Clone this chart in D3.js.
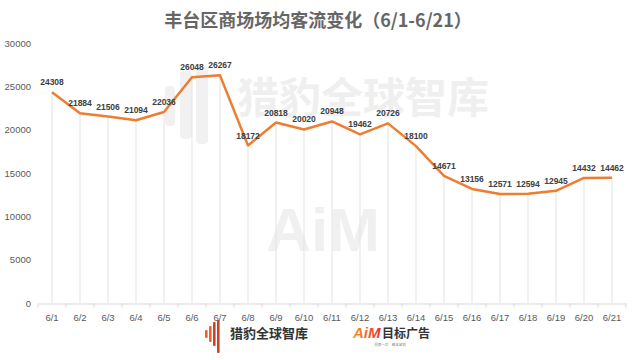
<!DOCTYPE html>
<html>
<head>
<meta charset="utf-8">
<script src="https://cdn.jsdelivr.net/npm/d3@7"></script>
<style>
  body { margin: 0; background: #fff; }
  svg { display: block; font-family: "Noto Sans CJK SC", "Open Sans", sans-serif; }
</style>
</head>
<body>
<svg id="chart" width="640" height="360"></svg>
<script>
"use strict";

// data
const dates = ["6/1", "6/2", "6/3", "6/4", "6/5", "6/6", "6/7", "6/8", "6/9", "6/10", "6/11",
  "6/12", "6/13", "6/14", "6/15", "6/16", "6/17", "6/18", "6/19", "6/20", "6/21"];
const visitors = [24308, 21884, 21506, 21094, 22036, 26048, 26267, 18172, 20818, 20020, 20948,
  19462, 20726, 18100, 14671, 13156, 12571, 12594, 12945, 14432, 14462];
const yTicks = [0, 5000, 10000, 15000, 20000, 25000, 30000];

const TITLE = "丰台区商场场均客流变化（6/1-6/21）";
const LINE_COLOR = "#ED7D31";

const svg = d3.select("#chart");

const x = d3.scaleBand().domain(dates).range([38, 626]);
const y = d3.scaleLinear().domain([0, 30000]).range([303, 43]);
const cx = (d) => x(d) + x.bandwidth() / 2;

// watermarks (very faint)
const wm = svg.append("g").attr("id", "watermark");
[[165, 86, 10, 40], [180, 71, 12, 68], [196, 66, 12, 78]].forEach(([bx, by, bw, bh]) => {
  wm.append("rect")
    .attr("x", bx)
    .attr("y", by)
    .attr("width", bw)
    .attr("height", bh)
    .attr("rx", 4)
    .attr("fill", "#f1f1f1");
});
wm.append("text")
  .attr("x", 237)
  .attr("y", 113)
  .attr("font-size", 42)
  .attr("font-weight", "bold")
  .attr("fill", "#efefef")
  .text("猎豹全球智库");
wm.append("text")
  .attr("x", 323)
  .attr("y", 251)
  .attr("text-anchor", "middle")
  .attr("font-family", "Liberation Sans, Arial, sans-serif")
  .attr("font-size", 62)
  .attr("font-weight", "bold")
  .attr("fill", "#f0f0f0")
  .text("AiM");

// title
svg.append("text")
  .attr("x", 318)
  .attr("y", 27)
  .attr("text-anchor", "middle")
  .attr("font-size", 18)
  .attr("font-weight", "bold")
  .attr("fill", "#666")
  .text(TITLE);

// y axis labels (no axis line)
svg.append("g")
  .selectAll("text")
  .data(yTicks)
  .join("text")
  .attr("x", 31)
  .attr("y", (d) => y(d) + 3.5)
  .attr("text-anchor", "end")
  .attr("font-size", 9.5)
  .attr("font-family", "Liberation Sans, Arial, sans-serif")
  .attr("fill", "#595959")
  .text((d) => d);

// drop lines from each point to the axis
svg.append("g")
  .selectAll("line")
  .data(dates)
  .join("line")
  .attr("x1", cx)
  .attr("x2", cx)
  .attr("y1", (d, i) => y(visitors[i]))
  .attr("y2", y(0))
  .attr("stroke", "#e3e3e3")
  .attr("stroke-width", 1);

// x axis
const xAxis = d3.axisBottom(x).tickSize(0).tickPadding(11);
const gx = svg.append("g")
  .attr("transform", `translate(0,${y(0) + 0.5})`)
  .call(xAxis);
gx.select(".domain").attr("stroke", "#d9d9d9");
gx.selectAll("text")
  .attr("font-size", 9.5)
  .attr("fill", "#595959")
  .attr("font-family", "Liberation Sans, Arial, sans-serif");
gx.selectAll(".sep")
  .data(dates.concat([null]))
  .join("line")
  .attr("class", "sep")
  .attr("x1", (d, i) => x.range()[0] + i * x.step())
  .attr("x2", (d, i) => x.range()[0] + i * x.step())
  .attr("y1", 0)
  .attr("y2", 4)
  .attr("stroke", "#d9d9d9");

// line
const line = d3.line()
  .x((d, i) => cx(dates[i]))
  .y((d) => y(d));

svg.append("path")
  .datum(visitors)
  .attr("d", line)
  .attr("fill", "none")
  .attr("stroke", LINE_COLOR)
  .attr("stroke-width", 2.5)
  .attr("stroke-linejoin", "round");

// data labels
svg.append("g")
  .selectAll("text")
  .data(visitors)
  .join("text")
  .attr("x", (d, i) => cx(dates[i]))
  .attr("y", (d) => y(d) - 7)
  .attr("text-anchor", "middle")
  .attr("font-size", 8.5)
  .attr("font-weight", "bold")
  .attr("font-family", "Liberation Sans, Arial, sans-serif")
  .attr("fill", "#404040")
  .text((d) => d);

// footer logos
const foot = svg.append("g").attr("id", "footer");
[[205, 330, 8], [209, 326, 16], [213, 322, 24], [217, 320, 33]].forEach(([fx, fy, h], i) => {
  foot.append("rect")
    .attr("x", fx)
    .attr("y", fy)
    .attr("width", 2.6)
    .attr("height", h)
    .attr("rx", 1)
    .attr("fill", i < 2 ? "#e8632b" : "#c9452a");
});
foot.append("text")
  .attr("x", 230)
  .attr("y", 338)
  .attr("font-size", 13)
  .attr("font-weight", "bold")
  .attr("fill", "#333")
  .text("猎豹全球智库");

const defs = svg.append("defs");
const grad = defs.append("linearGradient").attr("id", "aimGrad");
grad.append("stop").attr("offset", "0%").attr("stop-color", "#f39c2b");
grad.append("stop").attr("offset", "100%").attr("stop-color", "#e5322d");

foot.append("text")
  .attr("x", 353)
  .attr("y", 338)
  .attr("font-family", "Liberation Sans, Arial, sans-serif")
  .attr("font-size", 15)
  .attr("font-weight", "bold")
  .attr("font-style", "italic")
  .attr("fill", "url(#aimGrad)")
  .text("AiM");
foot.append("text")
  .attr("x", 382)
  .attr("y", 338)
  .attr("font-size", 12)
  .attr("font-weight", "bold")
  .attr("fill", "#333")
  .text("目标广告");
foot.append("text")
  .attr("x", 390)
  .attr("y", 346)
  .attr("text-anchor", "middle")
  .attr("font-size", 3.5)
  .attr("fill", "#888")
  .text("洞察一切　精准营销");
</script>
</body>
</html>
